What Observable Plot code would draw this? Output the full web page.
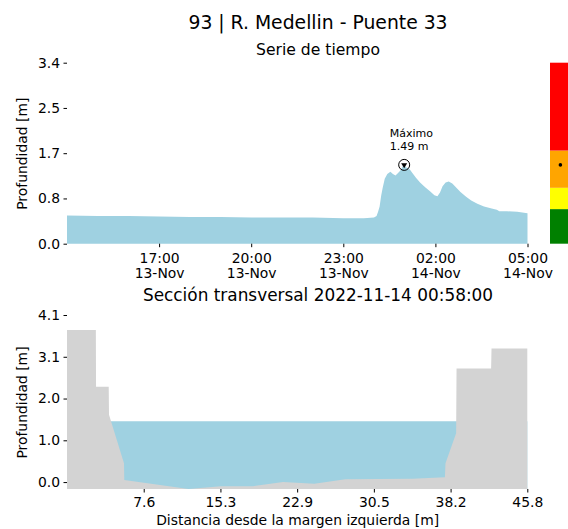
<!DOCTYPE html>
<html><head><meta charset="utf-8">
<script src="https://cdn.jsdelivr.net/npm/d3@7"></script>
<script src="https://cdn.jsdelivr.net/npm/@observablehq/plot@0.6"></script>
<style>
body{margin:0;background:#fff;}
#root{position:relative;width:568px;height:529px;font-family:"DejaVu Sans";color:#000;overflow:hidden;background:#fff}
.t{position:absolute;white-space:nowrap;transform:translate(-50%,-50%);line-height:1;z-index:5}
#root svg{position:absolute;left:0}
</style></head><body><div id="root"></div>
<script>
// ---- texts ----
const mainTitle = "93 | R. Medellin - Puente 33";
const seriesTitle = "Serie de tiempo";
const sectionTitle = "Sección transversal 2022-11-14 00:58:00";
const yLabel = "Profundidad [m]";
const xLabelSection = "Distancia desde la margen izquierda [m]";
const maxLabel = "Máximo";

// ---- time series (depth, m) ----
const seriesTimes = [
  "2022-11-13T14:00Z","2022-11-13T15:00Z","2022-11-13T16:00Z","2022-11-13T17:00Z","2022-11-13T18:00Z",
  "2022-11-13T19:00Z","2022-11-13T20:00Z","2022-11-13T21:00Z","2022-11-13T22:00Z","2022-11-13T23:00Z",
  "2022-11-13T23:40Z","2022-11-14T00:00Z","2022-11-14T00:05Z","2022-11-14T00:08Z","2022-11-14T00:11Z",
  "2022-11-14T00:14Z","2022-11-14T00:17Z","2022-11-14T00:21Z","2022-11-14T00:26Z","2022-11-14T00:32Z",
  "2022-11-14T00:37Z","2022-11-14T00:42Z","2022-11-14T00:47Z","2022-11-14T00:52Z","2022-11-14T00:58Z",
  "2022-11-14T01:03Z","2022-11-14T01:09Z","2022-11-14T01:15Z","2022-11-14T01:22Z","2022-11-14T01:30Z",
  "2022-11-14T01:40Z","2022-11-14T01:50Z","2022-11-14T01:58Z","2022-11-14T02:04Z","2022-11-14T02:09Z",
  "2022-11-14T02:14Z","2022-11-14T02:20Z","2022-11-14T02:26Z","2022-11-14T02:33Z","2022-11-14T02:41Z",
  "2022-11-14T02:49Z","2022-11-14T03:00Z","2022-11-14T03:10Z","2022-11-14T03:22Z","2022-11-14T03:35Z",
  "2022-11-14T03:50Z","2022-11-14T04:00Z","2022-11-14T04:05Z","2022-11-14T04:20Z","2022-11-14T04:40Z",
  "2022-11-14T05:00Z"
];
const seriesDepth = [
  0.53,0.52,0.52,0.51,0.50,
  0.50,0.49,0.49,0.49,0.48,
  0.48,0.49,0.52,0.60,0.70,
  0.90,1.05,1.22,1.31,1.35,
  1.31,1.28,1.33,1.38,1.49,
  1.43,1.41,1.33,1.24,1.15,
  1.06,0.98,0.91,0.89,0.96,
  1.08,1.15,1.17,1.13,1.05,
  0.97,0.88,0.81,0.75,0.70,
  0.66,0.64,0.61,0.61,0.60,
  0.57
];
const maxTime = "2022-11-14T00:58Z";
const maxDepth = 1.49;

// ---- axis ticks ----
const timeTicks = ["2022-11-13T17:00Z","2022-11-13T20:00Z","2022-11-13T23:00Z","2022-11-14T02:00Z","2022-11-14T05:00Z"];
const timeTickLabels = ["17:00\n13-Nov","20:00\n13-Nov","23:00\n13-Nov","02:00\n14-Nov","05:00\n14-Nov"];
const depthTicksTop = [0, 0.85, 1.7, 2.55, 3.4];
const depthTickLabelsTop = ["0.0","0.8","1.7","2.5","3.4"];
const depthTicksSection = [0, 1.025, 2.05, 3.075, 4.1];
const depthTickLabelsSection = ["0.0","1.0","2.0","3.1","4.1"];
const distTicks = [7.633, 15.267, 22.9, 30.533, 38.167, 45.8];
const distTickLabels = ["7.6","15.3","22.9","30.5","38.2","45.8"];

// ---- alert levels (m) ----
const levelLow = [0, 0.65, 1.05, 1.75];
const levelHigh = [0.65, 1.05, 1.75, 3.4];
const levelColors = ["#008000","#ffff00","#ffa500","#ff0000"];

// ---- cross section ----
const sectionDist = [0, 2.87, 2.89, 4.15, 4.18, 5.67, 5.70, 12.1, 15.3, 18.5, 21.5, 24.6, 27.7, 34.4, 37.6, 37.66, 38.72, 38.76, 42.2, 42.24, 45.8];
const sectionBed  = [3.73, 3.73, 2.34, 2.34, 1.65, 0.46, 0.05, -0.17, -0.10, -0.10, 0.00, -0.04, 0.07, 0.08, 0.12, 0.46, 1.20, 2.79, 2.79, 3.28, 3.28];
const waterLevel = 1.49;
const sectionBottom = -0.17;

// ---- build ----
const water = "#9fd1e1";
const root = document.getElementById("root");
const font = {fontFamily: "DejaVu Sans", fontSize: "13.9px", color: "#000", background: "transparent", overflow: "visible"};

function addText(txt, x, y, size) {
  const d = document.createElement("div");
  d.className = "t"; d.textContent = txt;
  d.style.left = x + "px"; d.style.top = y + "px"; d.style.fontSize = size + "px";
  root.appendChild(d);
}

const series = seriesTimes.map((t, i) => ({t: new Date(t), v: seriesDepth[i]}));
const maxPt = [{t: new Date(maxTime), v: maxDepth, label: maxLabel + "\n" + maxDepth.toFixed(2) + " m"}];
const timeFmt = new Map(timeTicks.map((d, i) => [+new Date(d), timeTickLabels[i]]));
const topFmt = new Map(depthTicksTop.map((d, i) => [d, depthTickLabelsTop[i]]));
const secFmt = new Map(depthTicksSection.map((d, i) => [d, depthTickLabelsSection[i]]));
const distFmt = new Map(distTicks.map((d, i) => [d, distTickLabels[i]]));

const topPlot = Plot.plot({
  width: 568, height: 290,
  marginLeft: 67, marginRight: 40.5, marginTop: 62.7, marginBottom: 46.3,
  style: font,
  x: {type: "utc", domain: [series[0].t, series[series.length - 1].t]},
  y: {domain: [0, 3.4]},
  marks: [
    Plot.areaY(series, {x: "t", y: "v", fill: water}),
    Plot.axisX({ticks: timeTicks.map(d => new Date(d)), tickFormat: d => timeFmt.get(+d), tickSize: 3.5, tickPadding: 4.5, lineHeight: 1.08, label: null}),
    Plot.axisY({ticks: depthTicksTop, tickFormat: d => topFmt.get(d), tickSize: 3.5, tickPadding: 4,
      label: yLabel, labelAnchor: "center", labelArrow: "none", labelOffset: 50}),
    Plot.dot(maxPt, {x: "t", y: "v", r: 5.5, stroke: "black", fill: "none", strokeWidth: 1}),
    Plot.dot(maxPt, {x: "t", y: "v", symbol: "triangle", r: 2.2, fill: "black", rotate: 180}),
    Plot.text(maxPt, {x: "t", y: "v", text: "label", textAnchor: "start", lineAnchor: "bottom", dx: -14.5, dy: -15, fontSize: 11, lineHeight: 1.18})
  ]
});
topPlot.style.top = "0px";
root.appendChild(topPlot);

const levels = levelLow.map((lo, i) => ({lo, hi: levelHigh[i], color: levelColors[i]}));
const barPlot = Plot.plot({
  width: 18, height: 290,
  marginLeft: 0, marginRight: 0, marginTop: 62.7, marginBottom: 46.3,
  style: font,
  x: {domain: [0, 1], axis: null},
  y: {domain: [0, 3.4], axis: null},
  marks: [
    Plot.rectY(levels, {x1: 0, x2: 1, y1: "lo", y2: "hi", fill: "color"}),
    Plot.dot(maxPt, {x: 0.55, y: "v", r: 1.8, fill: "black"})
  ]
});
barPlot.style.top = "0px";
barPlot.style.left = "550px";
root.appendChild(barPlot);

const section = sectionDist.map((d, i) => ({d, z: sectionBed[i]}));
const secPlot = Plot.plot({
  width: 568, height: 239,
  marginLeft: 67, marginRight: 40.7, marginTop: 25, marginBottom: 40,
  style: font,
  x: {domain: [0, 45.8]},
  y: {domain: [sectionBottom, 4.1]},
  marks: [
    Plot.areaY(section, {x: "d", y1: sectionBottom, y2: waterLevel, fill: water}),
    Plot.areaY(section, {x: "d", y1: sectionBottom, y2: "z", fill: "#d3d3d3"}),
    Plot.axisX({ticks: distTicks, tickFormat: d => distFmt.get(d), tickSize: 3.5, tickPadding: 4.5,
      label: xLabelSection, labelAnchor: "center", labelArrow: "none", labelOffset: 35}),
    Plot.axisY({ticks: depthTicksSection, tickFormat: d => secFmt.get(d), tickSize: 3.5, tickPadding: 4,
      label: yLabel, labelAnchor: "center", labelArrow: "none", labelOffset: 50})
  ]
});
secPlot.style.top = "290px";
root.appendChild(secPlot);

addText(mainTitle, 318, 23, 18.8);
addText(seriesTitle, 318, 50.5, 15.6);
addText(sectionTitle, 318, 295, 16.9);
</script>
</body></html>
